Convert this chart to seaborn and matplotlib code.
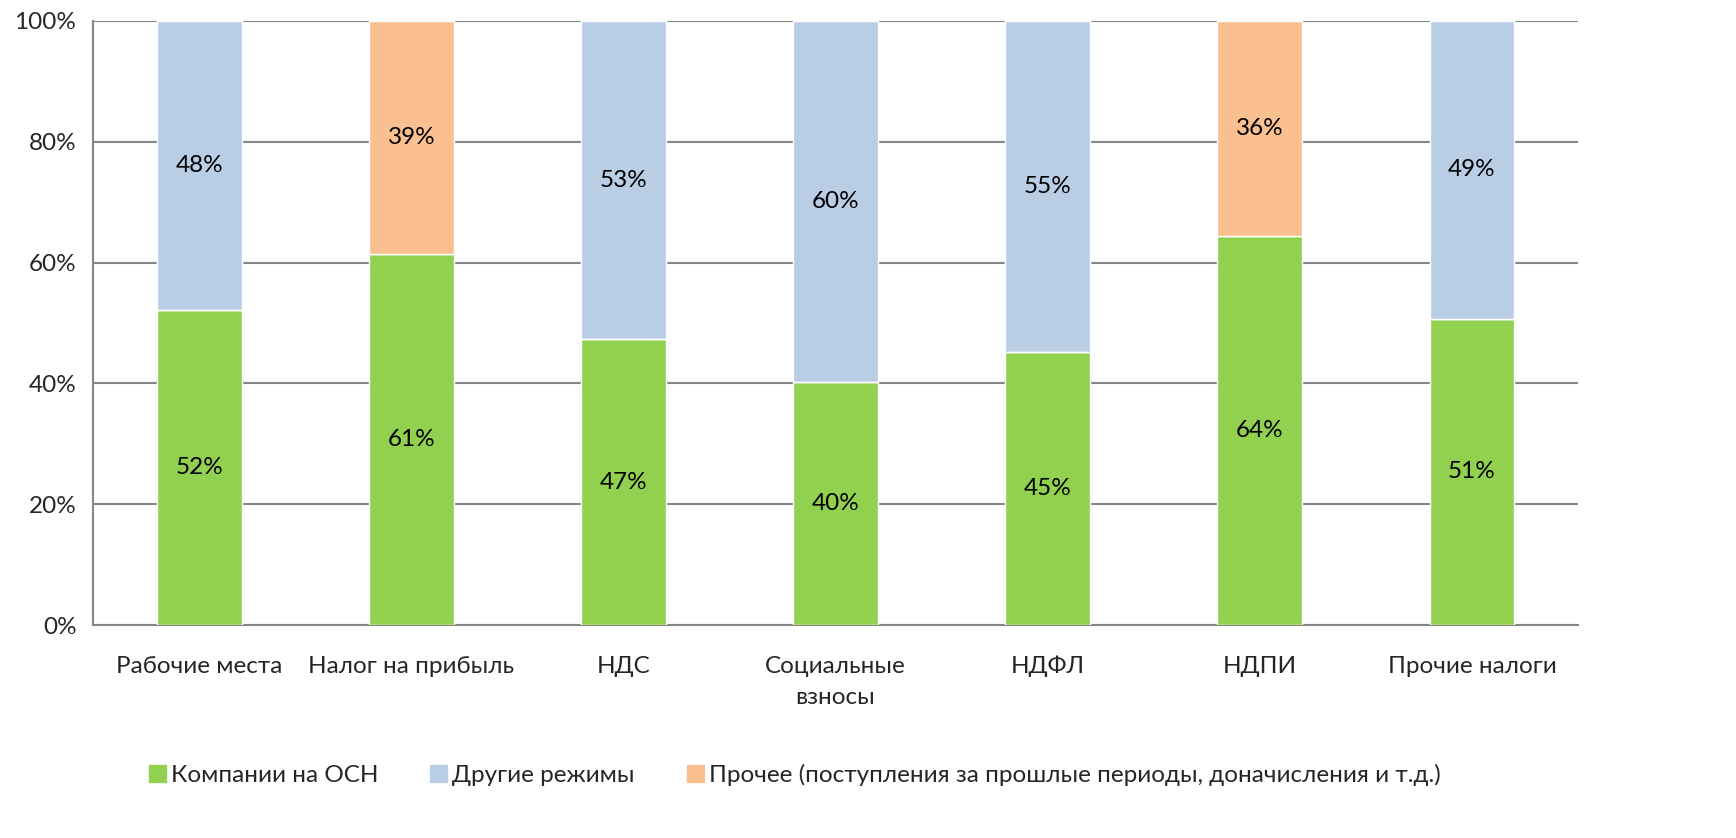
import numpy as np
import matplotlib
matplotlib.use('Agg')
import matplotlib.pyplot as plt
import seaborn as sns
from matplotlib.patches import Patch

# Data (shares, %)
categories = ['Рабочие места', 'Налог на прибыль', 'НДС', 'Социальные\nвзносы',
              'НДФЛ', 'НДПИ', 'Прочие налоги']
osn = [52.1, 61.4, 47.3, 40.2, 45.2, 64.4, 50.7]
other_regimes = [47.9, 0, 52.7, 59.8, 54.8, 0, 49.3]
prochee = [0, 38.6, 0, 0, 0, 35.6, 0]
legend_labels = ['Компании на ОСН', 'Другие режимы',
                 'Прочее (поступления за прошлые периоды, доначисления и т.д.)']

green = '#92D050'
blue = '#B9CDE5'
orange = '#FAC090'
grid_col = '#868686'

sns.set_style('white')
plt.rcParams['font.family'] = ['Lato', 'DejaVu Sans']

fig, ax = plt.subplots(figsize=(17.36, 8.38), dpi=100)
fig.subplots_adjust(left=0.0536, right=0.909, top=0.975, bottom=0.254)

x = np.arange(len(categories))
osn_arr = np.array(osn)
sns.barplot(x=x, y=osn, color=green, width=0.4, saturation=1, ax=ax, zorder=3)
sns.barplot(x=x, y=other_regimes, bottom=osn_arr, color=blue, width=0.4,
            saturation=1, ax=ax, zorder=3)
sns.barplot(x=x, y=prochee, bottom=osn_arr, color=orange, width=0.4,
            saturation=1, ax=ax, zorder=3)

# segment labels
for cont, vals in zip(ax.containers, [osn, other_regimes, prochee]):
    labels = [f'{v:.0f}%' if v > 0 else '' for v in vals]
    ax.bar_label(cont, labels=labels, label_type='center', fontsize=17.5, color='black')

ax.set_xlim(-0.5, len(categories) - 0.5)
ax.set_ylim(0, 100)
ax.set_yticks(range(0, 101, 20))
ax.set_yticklabels([f'{v}%' for v in range(0, 101, 20)], fontsize=17.5)
ax.set_xticks(x)
ax.set_xticklabels(categories, fontsize=17.5, linespacing=1.6)
ax.set_xticks(np.arange(-0.5, len(categories)), minor=True)
ax.tick_params(axis='x', which='major', length=0, pad=22)
ax.tick_params(axis='x', which='minor', length=8, color=grid_col, width=1.5)
ax.tick_params(axis='y', length=8, color=grid_col, width=1.5, pad=4)
ax.set_xlabel('')
ax.set_ylabel('')

ax.yaxis.grid(True, color=grid_col, linewidth=1.5, zorder=0)
ax.set_axisbelow(True)
for side in ['top', 'right']:
    ax.spines[side].set_visible(False)
for side in ['left', 'bottom']:
    ax.spines[side].set_color(grid_col)
    ax.spines[side].set_linewidth(1.5)

handles = [Patch(color=c) for c in [green, blue, orange]]
fig.legend(handles, legend_labels, loc='center left', bbox_to_anchor=(0.0787, 0.075),
           ncol=3, frameon=False, fontsize=17.5, handlelength=0.7, handleheight=0.7,
           handletextpad=0.2, columnspacing=2.15, borderpad=0)

fig.savefig('out.png', dpi=100)
